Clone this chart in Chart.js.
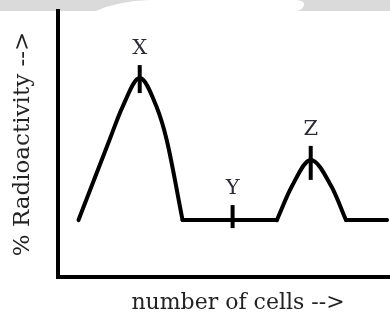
<!DOCTYPE html>
<html>
<head>
<meta charset="utf-8">
<script src="https://cdn.jsdelivr.net/npm/chart.js@4"></script>
<style>
  html, body { margin: 0; padding: 0; background: #fff; overflow: hidden; }
  /* the plot runs on past the right edge of the page */
  #wrap { width: 418px; height: 327px; }
</style>
</head>
<body>
<div id="wrap"><canvas id="curve"></canvas></div>
<script>
// peak X (rise and fall)
const peakXCells = [5.7, 14.3, 17.9, 22.7, 27.4, 30.2, 34.6];
const peakXActivity = [21.4, 51.5, 63.9, 74.8, 63.9, 51.5, 21.4];
// flat stretch between the peaks
const plateauCells = [34.6, 60.8];
const plateauActivity = [21.4, 21.4];
// peak Z
const peakZCells = [60.8, 64.9, 70.2, 76.0, 80.0];
const peakZActivity = [21.4, 33.9, 44.0, 33.9, 21.4];
// flat tail
const tailCells = [80.0, 91.4];
const tailActivity = [21.4, 21.4];
// marked points
const markerNames = ['X', 'Y', 'Z'];
const markerCells = [22.7, 48.5, 70.2];
const markerActivity = [74.4, 22.7, 42.9];
const markerSize = [14, 11.5, 17];

const toPoints = (xs, ys) => xs.map((x, i) => ({x: x, y: ys[i]}));

const curveStyle = {
  borderColor: '#000',
  borderWidth: 4,
  pointRadius: 0,
  borderCapStyle: 'round',
  borderJoinStyle: 'round',
  fill: false
};

// gray strip along the top edge
const banner = {
  id: 'banner',
  beforeDraw(chart) {
    const c = chart.ctx;
    c.save();
    c.fillStyle = '#d9dad9';
    c.fillRect(0, 0, chart.width, 11);
    c.fillStyle = '#fff';
    c.beginPath();
    c.moveTo(96, 11);
    c.quadraticCurveTo(118, 1, 150, 0);
    c.lineTo(297, 0);
    c.quadraticCurveTo(305, 1, 304, 5);
    c.quadraticCurveTo(303, 10, 296, 11);
    c.closePath();
    c.fill();
    c.restore();
  }
};

// letters above the tick marks
const markerLabels = {
  id: 'markerLabels',
  afterDatasetsDraw(chart) {
    const meta = chart.getDatasetMeta(4);
    const c = chart.ctx;
    c.save();
    c.font = '21px "DejaVu Serif"';
    c.fillStyle = '#2b2b33';
    c.textAlign = 'center';
    c.textBaseline = 'alphabetic';
    meta.data.forEach((pt, i) => {
      c.fillText(markerNames[i], pt.x, pt.y - markerSize[i] - 11);
    });
    c.restore();
  }
};

new Chart(document.getElementById('curve'), {
  type: 'line',
  data: {
    datasets: [
      Object.assign({data: toPoints(peakXCells, peakXActivity), cubicInterpolationMode: 'monotone'}, curveStyle),
      Object.assign({data: toPoints(plateauCells, plateauActivity)}, curveStyle),
      Object.assign({data: toPoints(peakZCells, peakZActivity), cubicInterpolationMode: 'monotone'}, curveStyle),
      Object.assign({data: toPoints(tailCells, tailActivity)}, curveStyle),
      {
        data: toPoints(markerCells, markerActivity),
        showLine: false,
        pointStyle: 'line',
        rotation: 90,
        pointRadius: markerSize,
        pointHoverRadius: markerSize,
        pointBorderColor: '#000',
        pointBorderWidth: 4
      }
    ]
  },
  options: {
    responsive: true,
    maintainAspectRatio: false,
    animation: false,
    events: [],
    layout: { autoPadding: false, padding: { top: 11, right: 0, left: 0, bottom: 0 } },
    plugins: { legend: { display: false }, tooltip: { enabled: false } },
    scales: {
      x: {
        type: 'linear',
        min: 0,
        max: 100,
        grid: { display: false },
        ticks: { display: false },
        border: { color: '#000', width: 4 },
        title: {
          display: true,
          text: 'number of cells -->',
          color: '#222',
          font: { family: 'DejaVu Serif', size: 22 },
          padding: { top: 0, bottom: 11 }
        },
        afterFit(scale) { scale.height = 50; }
      },
      y: {
        min: 0,
        max: 100,
        grid: { display: false },
        ticks: { display: false },
        border: { color: '#000', width: 4 },
        title: {
          display: true,
          text: '% Radioactivity -->',
          color: '#222',
          font: { family: 'DejaVu Serif', size: 23 },
          padding: { top: 9, bottom: 0 }
        },
        afterFit(scale) { scale.width = 58; }
      }
    }
  },
  plugins: [banner, markerLabels]
});
</script>
</body>
</html>
